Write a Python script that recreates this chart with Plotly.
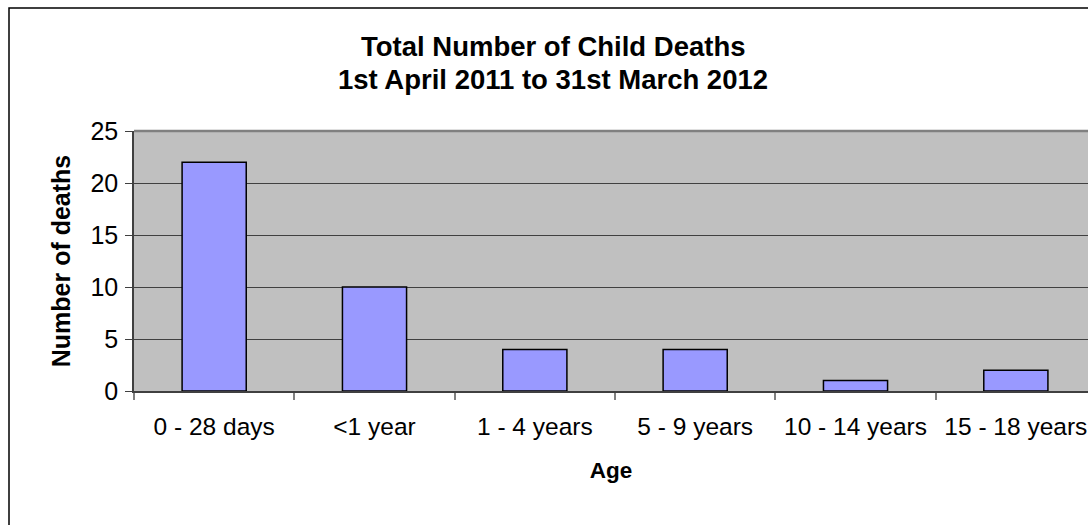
import plotly.graph_objects as go

categories = ["0 - 28 days", "<1 year", "1 - 4 years", "5 - 9 years", "10 - 14 years", "15 - 18 years"]
deaths = [22, 10, 4, 4, 1, 2]
y_ticks = [0, 5, 10, 15, 20, 25]

W, H = 1088, 525
L, T, B = 134, 131, 134
plot_w = W - L
plot_h = H - T - B

def px_to_paper_x(px):
    return (px - L) / plot_w

def px_to_paper_y(py):
    return (H - B - py) / plot_h

FONT = "Liberation Sans, Arial, sans-serif"

fig = go.Figure()
fig.add_trace(go.Bar(
    x=categories, y=deaths,
    marker=dict(color="#9999FF", line=dict(color="#000000", width=1.5)),
    width=0.4,
))

fig.update_layout(
    width=W, height=H,
    margin=dict(l=L, r=0, t=T, b=B),
    paper_bgcolor="white",
    plot_bgcolor="#C0C0C0",
    showlegend=False,
    font=dict(family=FONT, color="black", size=24),
    xaxis=dict(
        type="category",
        range=[-0.5, 5.45],
        tickson="boundaries",
        ticks="outside", ticklen=7, tickcolor="#808080", tickwidth=1.5,
        showline=True, linecolor="#404040", linewidth=1.5,
        showgrid=False,
        tickfont=dict(size=24.5),
        ticklabelstandoff=13,
        title=dict(text="<b>Age</b>", font=dict(size=22.5), standoff=23),
    ),
    yaxis=dict(
        range=[0, 25],
        tickvals=y_ticks,
        ticks="outside", ticklen=7, tickcolor="#404040", tickwidth=1,
        showline=True, linecolor="#404040", linewidth=1.5,
        showgrid=True, gridcolor="#404040", gridwidth=1,
        zeroline=False,
        tickfont=dict(size=25),
        ticklabelstandoff=2,
        title=dict(text="<b>Number of deaths</b>", font=dict(size=25), standoff=13),
    ),
    shapes=[
        dict(type="line", xref="paper", yref="paper", x0=0, x1=1, y0=1, y1=1,
             line=dict(color="#808080", width=2.5)),
        dict(type="rect", xref="paper", yref="paper",
             x0=px_to_paper_x(9), x1=px_to_paper_x(W + 20),
             y0=px_to_paper_y(H + 20), y1=px_to_paper_y(8),
             line=dict(color="black", width=1.5)),
    ],
    annotations=[
        dict(text="<b>Total Number of Child Deaths</b>", xref="paper", yref="paper",
             x=px_to_paper_x(553), y=px_to_paper_y(46), xanchor="center", yanchor="middle",
             showarrow=False, font=dict(size=27.5)),
        dict(text="<b>1st April 2011 to 31st March 2012</b>", xref="paper", yref="paper",
             x=px_to_paper_x(553), y=px_to_paper_y(79), xanchor="center", yanchor="middle",
             showarrow=False, font=dict(size=27.5)),
    ],
)

fig.write_html("out.html")
